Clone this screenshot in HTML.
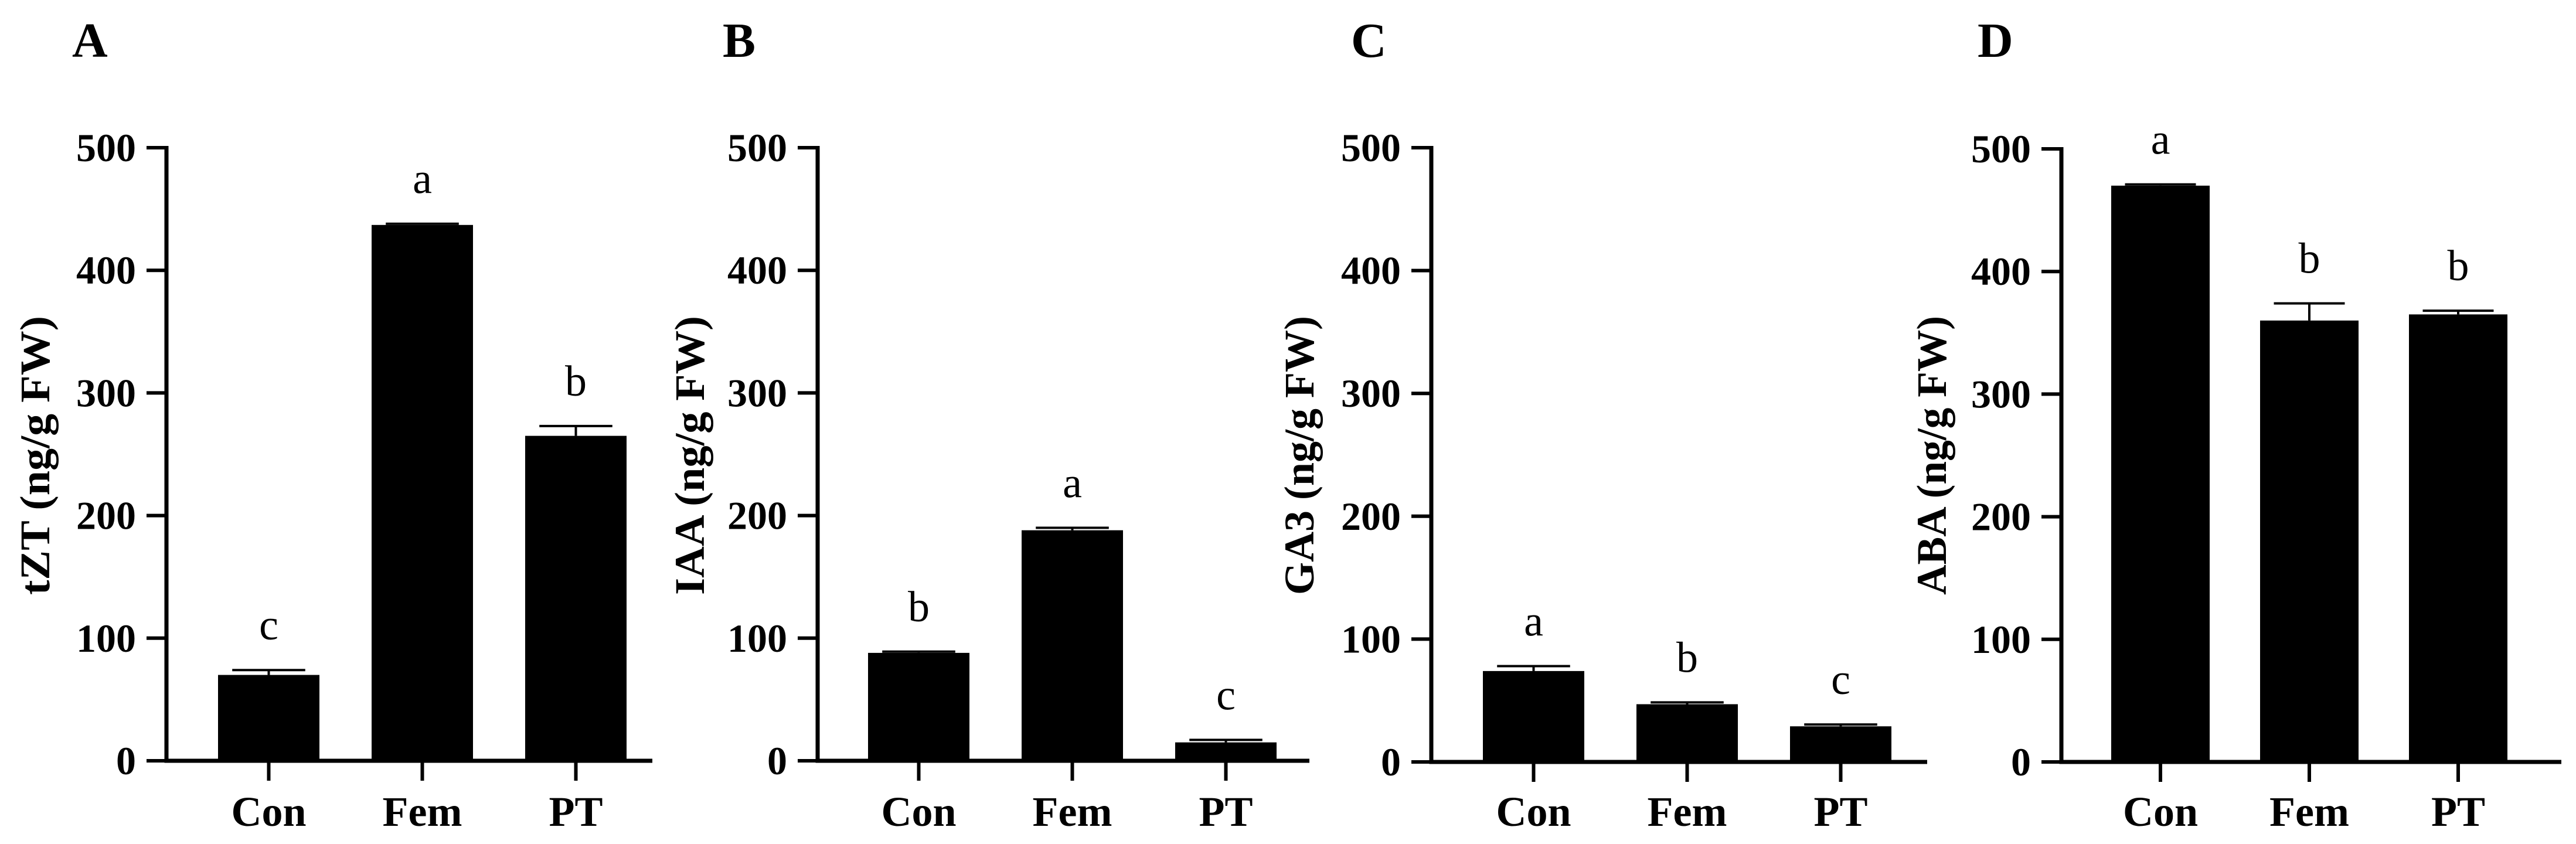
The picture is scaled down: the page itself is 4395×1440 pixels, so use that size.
<!DOCTYPE html>
<html><head><meta charset="utf-8"><style>
html,body{margin:0;padding:0;background:#fff;}
svg{display:block;font-family:"Liberation Serif",serif;}
</style></head><body>
<svg id="chart" width="4395" height="1440" viewBox="0 0 4395 1440" xmlns="http://www.w3.org/2000/svg"></svg>
<script>
const categories = ["Con","Fem","PT"];
const yTicks = [0,100,200,300,400,500];
const panelLetters = ["A","B","C","D"];
const yTitles = ["tZT (ng/g FW)","IAA (ng/g FW)","GA3 (ng/g FW)","ABA (ng/g FW)"];
const tztValues = [70,437,265];
const tztErrors = [4,1,8];
const iaaValues = [88,188,15];
const iaaErrors = [1,2,2];
const ga3Values = [74,47,29];
const ga3Errors = [4,1.5,1.5];
const abaValues = [470,360,365];
const abaErrors = [1,14,3];
const tztLetters = ["c","a","b"];
const iaaLetters = ["b","a","c"];
const ga3Letters = ["a","b","c"];
const abaLetters = ["a","b","b"];

const NS="http://www.w3.org/2000/svg";
const svg=document.getElementById('chart');
function mk(tag,attrs,parent){const e=document.createElementNS(NS,tag);for(const k in attrs)e.setAttribute(k,attrs[k]);(parent||svg).appendChild(e);return e;}

const layouts=[
 {ax:284,y0:1298,y500:252,x0:372,step:262,bw:173,xEnd:1113,letterX:123,titleX:60},
 {ax:1395,y0:1298,y500:252,x0:1481,step:262,bw:173,xEnd:2234,letterX:1233,titleX:1177},
 {ax:2442,y0:1300,y500:252,x0:2530,step:262,bw:173,xEnd:3288,letterX:2305,titleX:2217},
 {ax:3517,y0:1300,y500:254,x0:3602,step:254,bw:168,xEnd:4370,letterX:3374,titleX:3296}
];
const vals=[tztValues,iaaValues,ga3Values,abaValues];
const errs=[tztErrors,iaaErrors,ga3Errors,abaErrors];
const sigs=[tztLetters,iaaLetters,ga3Letters,abaLetters];

layouts.forEach((L,p)=>{
  const g=mk('g',{});
  
  
  const y=v=>L.y0-(v/500)*(L.y0-L.y500);
  const xc=i=>L.x0+i*L.step+L.bw/2;
  const pl=mk('text',{x:L.letterX,y:97,'font-size':84,'font-weight':'bold'},g);
  pl.textContent=panelLetters[p];
  
  
  const ty=777;
  const yt=mk('text',{x:L.titleX,y:ty,'font-size':72,'font-weight':'bold','text-anchor':'middle','dominant-baseline':'central',textLength:476,lengthAdjust:'spacingAndGlyphs',transform:`rotate(-90 ${L.titleX} ${ty})`},g);
  yt.textContent=yTitles[p];
  
  
  vals[p].forEach((v,i)=>{
    const b=mk('rect',{x:xc(i)-L.bw/2,y:y(v),width:L.bw,height:L.y0-y(v),fill:'#000'},g);
    
    
    const e=errs[p][i];
    const el=mk('path',{d:`M${xc(i)} ${y(v)} V${y(v+e)} M${xc(i)-L.bw*0.36} ${y(v+e)} H${xc(i)+L.bw*0.36}`,stroke:'#000','stroke-width':4,fill:'none'},g);
    
    
    const s=mk('text',{x:xc(i),y:y(v+e)-52,'font-size':74,'text-anchor':'middle'},g);
    s.textContent=sigs[p][i];
    
    
    const tk=mk('line',{x1:xc(i),x2:xc(i),y1:L.y0,y2:L.y0+34,stroke:'#000','stroke-width':6},g);
    
    
    const cl=mk('text',{x:xc(i),y:1409,'font-size':72,'font-weight':'bold','text-anchor':'middle'},g);
    cl.textContent=categories[i];
    
    
  });
  const axes=mk('path',{d:`M${L.ax} ${L.y500-3} V${L.y0} H${L.xEnd}`,stroke:'#000','stroke-width':7,fill:'none'},g);
  
  
  yTicks.forEach(t=>{
    const tl=mk('line',{x1:L.ax-34,x2:L.ax,y1:y(t),y2:y(t),stroke:'#000','stroke-width':6},g);
    
    
    const tx=mk('text',{x:L.ax-52,y:y(t),'font-size':68,'font-weight':'bold','text-anchor':'end','dominant-baseline':'central'},g);
    tx.textContent=t;
    
    
  });
});
</script>
</body></html>
